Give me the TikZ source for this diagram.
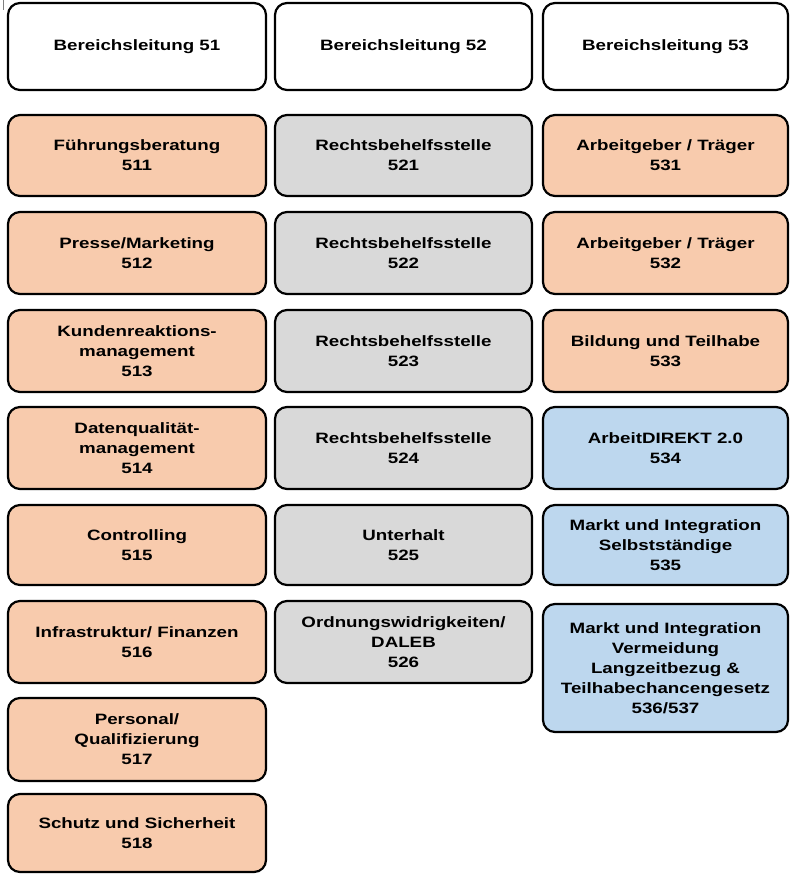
\documentclass[tikz,border=0pt]{standalone}
\usepackage{fontspec}
\setmainfont{Liberation Sans}[FakeStretch=1.25]
\definecolor{orangefill}{HTML}{F8CBAD}
\definecolor{grayfill}{HTML}{D9D9D9}
\definecolor{bluefill}{HTML}{BDD7EE}
\begin{document}
\begin{tikzpicture}[x=1pt,y=-1pt,
  box/.style={draw=black, line width=2.2pt, rounded corners=12pt, align=center,
    font=\fontsize{15}{20}\selectfont\bfseries, inner sep=0pt},
  head/.style={box, fill=white},
  orangebox/.style={box, fill=orangefill},
  graybox/.style={box, fill=grayfill},
  bluebox/.style={box, fill=bluefill},
  c1/.style={minimum width=258pt},
  c2/.style={minimum width=257pt},
  c3/.style={minimum width=245pt}]
\useasboundingbox (0,0) rectangle (791,875);
\draw[gray, line width=0.8pt] (3,0) -- (3,10);
% headers
\node[head,c1,minimum height=87pt] (h51) at (137,46.5) {Bereichsleitung 51};
\node[head,c2,minimum height=87pt] (h52) at (403.5,46.5) {Bereichsleitung 52};
\node[head,c3,minimum height=87pt] (h53) at (665.5,46.5) {Bereichsleitung 53};
% column 1
\node[orangebox,c1,minimum height=81pt] (b511) at (137,155.5) {Führungsberatung\\511};
\node[orangebox,c1,minimum height=82pt] (b512) at (137,253) {Presse/Marketing\\512};
\node[orangebox,c1,minimum height=82pt] (b513) at (137,351) {Kundenreaktions-\\management\\513};
\node[orangebox,c1,minimum height=82pt] (b514) at (137,448) {Datenqualität-\\management\\514};
\node[orangebox,c1,minimum height=80pt] (b515) at (137,545) {Controlling\\515};
\node[orangebox,c1,minimum height=82pt] (b516) at (137,642) {Infrastruktur/ Finanzen\\516};
\node[orangebox,c1,minimum height=83pt] (b517) at (137,739.5) {Personal/\\Qualifizierung\\517};
\node[orangebox,c1,minimum height=78pt] (b518) at (137,833) {Schutz und Sicherheit\\518};
% column 2
\node[graybox,c2,minimum height=81pt] (b521) at (403.5,155.5) {Rechtsbehelfsstelle\\521};
\node[graybox,c2,minimum height=82pt] (b522) at (403.5,253) {Rechtsbehelfsstelle\\522};
\node[graybox,c2,minimum height=82pt] (b523) at (403.5,351) {Rechtsbehelfsstelle\\523};
\node[graybox,c2,minimum height=82pt] (b524) at (403.5,448) {Rechtsbehelfsstelle\\524};
\node[graybox,c2,minimum height=80pt] (b525) at (403.5,545) {Unterhalt\\525};
\node[graybox,c2,minimum height=82pt] (b526) at (403.5,642) {Ordnungswidrigkeiten/\\DALEB\\526};
% column 3
\node[orangebox,c3,minimum height=81pt] (b531) at (665.5,155.5) {Arbeitgeber / Träger\\531};
\node[orangebox,c3,minimum height=82pt] (b532) at (665.5,253) {Arbeitgeber / Träger\\532};
\node[orangebox,c3,minimum height=82pt] (b533) at (665.5,351) {Bildung und Teilhabe\\533};
\node[bluebox,c3,minimum height=82pt] (b534) at (665.5,448) {ArbeitDIREKT 2.0\\534};
\node[bluebox,c3,minimum height=80pt] (b535) at (665.5,545) {Markt und Integration\\Selbstständige\\535};
\node[bluebox,c3,minimum height=128pt] (b536) at (665.5,668) {Markt und Integration\\Vermeidung\\Langzeitbezug \&\\Teilhabechancengesetz\\536/537};
\end{tikzpicture}
\end{document}
